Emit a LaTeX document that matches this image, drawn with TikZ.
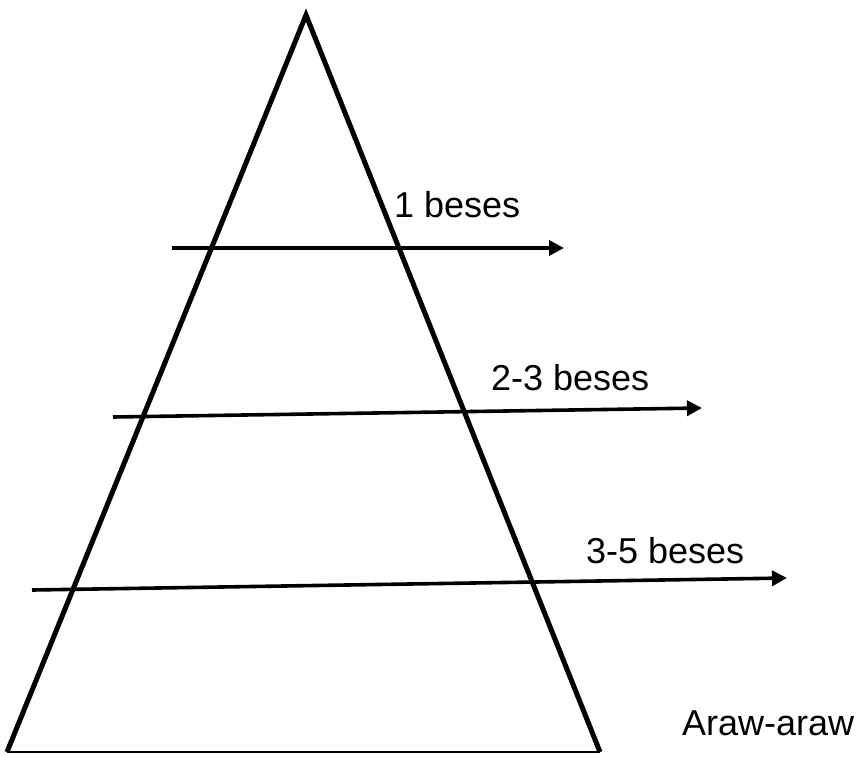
\documentclass[tikz,border=0pt]{standalone}
\usepackage{fontspec}
\setmainfont{Liberation Sans}
\usetikzlibrary{arrows.meta}
\begin{document}
\begin{tikzpicture}[x=1pt,y=-1pt,
  side/.style={line width=5pt,line join=miter},
  basel/.style={line width=2pt},
  levelarrow/.style={line width=3.6pt,-{Triangle[length=15pt,width=15pt]}},
  lbl/.style={anchor=base west,inner sep=0pt,font=\fontsize{36}{42}\selectfont}]
\useasboundingbox (0,0) rectangle (863,756);
\coordinate (apex) at (306,15);
\coordinate (bl) at (7,752);
\coordinate (br) at (600,752);
\draw[side] (bl) -- (apex) -- (br);
\draw[basel] (bl) -- (br);
\coordinate (a1s) at (172,248);
\coordinate (a1e) at (564,248);
\coordinate (a2s) at (113,417);
\coordinate (a2e) at (702,408);
\coordinate (a3s) at (32,590);
\coordinate (a3e) at (787,578);
\draw[levelarrow] (a1s) -- (a1e);
\draw[levelarrow] (a2s) -- (a2e);
\draw[levelarrow] (a3s) -- (a3e);
\node[lbl] (t1) at (394,217) {1 beses};
\node[lbl] (t2) at (491,390) {2-3 beses};
\node[lbl] (t3) at (586,563) {3-5 beses};
\node[lbl] (t4) at (682,735) {Araw-araw};
\end{tikzpicture}
\end{document}
